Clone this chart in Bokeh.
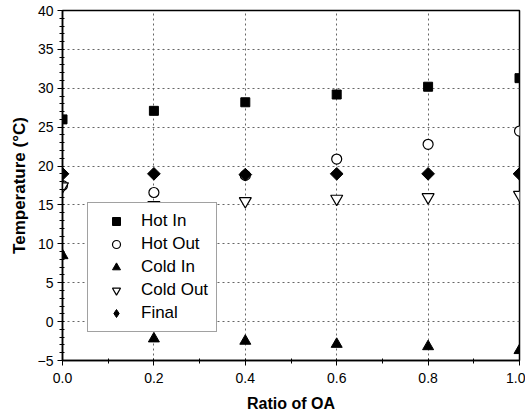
import math
from bokeh.plotting import figure
from bokeh.models import SingleIntervalTicker, NumeralTickFormatter, Legend, LegendItem
from bokeh.embed import file_html
from bokeh.resources import INLINE

ratio = [0.0, 0.2, 0.4, 0.6, 0.8, 1.0]
hot_in = [26.0, 27.1, 28.2, 29.2, 30.2, 31.3]
hot_out = [17.5, 16.6, 18.8, 20.9, 22.8, 24.5]
cold_in = [8.5, -2.2, -2.5, -2.9, -3.2, -3.7]
cold_out = [17.4, 15.0, 15.5, 15.8, 16.0, 16.3]
final = [19.0, 19.0, 18.9, 19.0, 19.0, 19.0]

FONT = "Liberation Sans"

p = figure(frame_width=457, frame_height=350, x_range=(0, 1.0), y_range=(-5, 40),
           output_backend="svg", toolbar_location=None,
           min_border_left=62, min_border_right=6, min_border_top=10, min_border_bottom=48)
p.background_fill_color = "white"
p.border_fill_color = "white"
p.outline_line_color = "black"
p.outline_line_width = 1.5

p.xaxis.ticker = SingleIntervalTicker(interval=0.2, num_minor_ticks=2)
p.yaxis.ticker = SingleIntervalTicker(interval=5, num_minor_ticks=5)
p.xaxis.formatter = NumeralTickFormatter(format="0.0")

for ax in (p.xaxis[0], p.yaxis[0]):
    ax.axis_line_color = "black"
    ax.axis_line_width = 1.5
    ax.major_tick_line_color = "black"
    ax.minor_tick_line_color = "black"
    ax.major_tick_out = 5
    ax.major_tick_in = 0
    ax.minor_tick_out = 3
    ax.minor_tick_in = 2
    ax.major_label_text_font = FONT
    ax.major_label_text_font_size = "14px"
    ax.major_label_text_color = "black"
    ax.axis_label_text_font = FONT
    ax.axis_label_text_font_style = "bold"
    ax.axis_label_text_font_size = "16px"
    ax.axis_label_text_color = "black"

p.xaxis.axis_label = "Ratio of OA"
p.yaxis.axis_label = "Temperature (°C)"
p.yaxis.axis_label_text_font_size = "17px"
p.xaxis.major_label_standoff = 7
p.xaxis.axis_label_standoff = 9
p.yaxis.major_label_standoff = 4
p.yaxis.axis_label_standoff = 6

for g in (p.xgrid[0], p.ygrid[0]):
    g.grid_line_color = "#666666"
    g.grid_line_dash = "2 3"
    g.grid_line_width = 1

r1 = p.scatter(ratio, hot_in, marker="square", size=9, fill_color="black", line_color="black")
r2 = p.scatter(ratio, hot_out, marker="circle", size=10, fill_color="white", line_color="black", line_width=1.2)
r3 = p.scatter(ratio, cold_in, marker="triangle", size=11, fill_color="black", line_color="black")
r4 = p.scatter(ratio, cold_out, marker="inverted_triangle", size=12, fill_color="white", line_color="black", line_width=1.2)
r5 = p.scatter(ratio, final, marker="square", size=9, angle=math.pi / 4, fill_color="black", line_color="black")
# legend-only glyph for the diamond (legend ignores marker angle); NaN -> never drawn in the plot
nan = float("nan")
r5_leg = p.scatter(x=[nan], y=[nan], marker="diamond", size=16, fill_color="black", line_color="black")

legend = Legend(items=[
    LegendItem(label="Hot In", renderers=[r1]),
    LegendItem(label="Hot Out", renderers=[r2]),
    LegendItem(label="Cold In", renderers=[r3]),
    LegendItem(label="Cold Out", renderers=[r4]),
    LegendItem(label="Final", renderers=[r5_leg]),
], location=(25, 28))
legend.label_text_font = FONT
legend.label_text_font_size = "17px"
legend.label_text_color = "black"
legend.label_height = 20
legend.glyph_height = 20
legend.glyph_width = 40
legend.label_standoff = 5
legend.spacing = 3
legend.padding = 8
legend.margin = 0
legend.border_line_color = "#444444"
legend.border_line_width = 1
legend.background_fill_alpha = 1.0
p.add_layout(legend, "center")

open("out.html", "w").write(file_html(p, INLINE))
